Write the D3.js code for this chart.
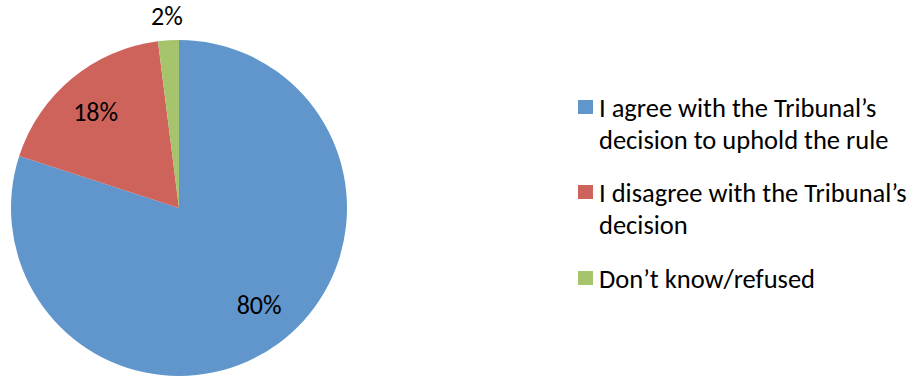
<!DOCTYPE html>
<html>
<head>
<meta charset="utf-8">
<script src="https://cdn.jsdelivr.net/npm/d3@7"></script>
<style>
  body { margin: 0; background: #fff; }
  svg { display: block; font-family: Carlito, Calibri, "Liberation Sans", Arial, sans-serif; }
</style>
</head>
<body>
<div id="chart"></div>
<script>
// Answer categories, shares (percent) and slice colours
const categories = [
  ["I agree with the Tribunal\u2019s", "decision to uphold the rule"],
  ["I disagree with the Tribunal\u2019s", "decision"],
  ["Don\u2019t know/refused"]
];
const values = [80, 18, 2];
const colors = ["#6096CB", "#CD635B", "#A6C46B"];

const width = 917, height = 376;
const cx = 179, cy = 208, radius = 168;

const svg = d3.select('#chart').append('svg')
  .attr('width', width)
  .attr('height', height);

const pie = d3.pie().sort(null).value(d => d);
const arcs = pie(values);
const arc = d3.arc().innerRadius(0).outerRadius(radius);

const g = svg.append('g').attr('transform', `translate(${cx},${cy})`);

g.selectAll('path')
  .data(arcs)
  .join('path')
  .attr('d', arc)
  .attr('fill', (d, i) => colors[i]);

// Percent labels: inside for big slices, outside for the tiny one.
// Excel's "best fit" nudges them a little off the mid angle.
const labelRadius = [0.75, 0.755, 1.14];
const labelShift = [-3.5, -1.5, 0].map(a => a * Math.PI / 180);
g.selectAll('text.pct')
  .data(arcs)
  .join('text')
  .attr('class', 'pct')
  .attr('transform', (d, i) => {
    const a = (d.startAngle + d.endAngle) / 2 + labelShift[i];
    const r = radius * labelRadius[i];
    return `translate(${Math.sin(a) * r},${-Math.cos(a) * r})`;
  })
  .attr('text-anchor', 'middle')
  .attr('dy', '0.33em')
  .attr('font-size', 26)
  .attr('fill', '#000')
  .text(d => d.value + '%');

// Legend
const legend = svg.append('g').attr('transform', 'translate(578,0)');
const rowBaseline = [117, 202, 288];
const lineH = 32;

const item = legend.selectAll('g.item')
  .data(categories)
  .join('g')
  .attr('class', 'item')
  .attr('transform', (d, i) => `translate(0,${rowBaseline[i]})`);

item.append('rect')
  .attr('x', 0)
  .attr('y', -17)
  .attr('width', 15)
  .attr('height', 14)
  .attr('fill', (d, i) => colors[i]);

item.append('text')
  .attr('font-size', 26.5)
  .attr('fill', '#000')
  .selectAll('tspan')
  .data(d => d)
  .join('tspan')
  .attr('x', 21)
  .attr('y', (d, i) => i * lineH)
  .text(d => d);
</script>
</body>
</html>
